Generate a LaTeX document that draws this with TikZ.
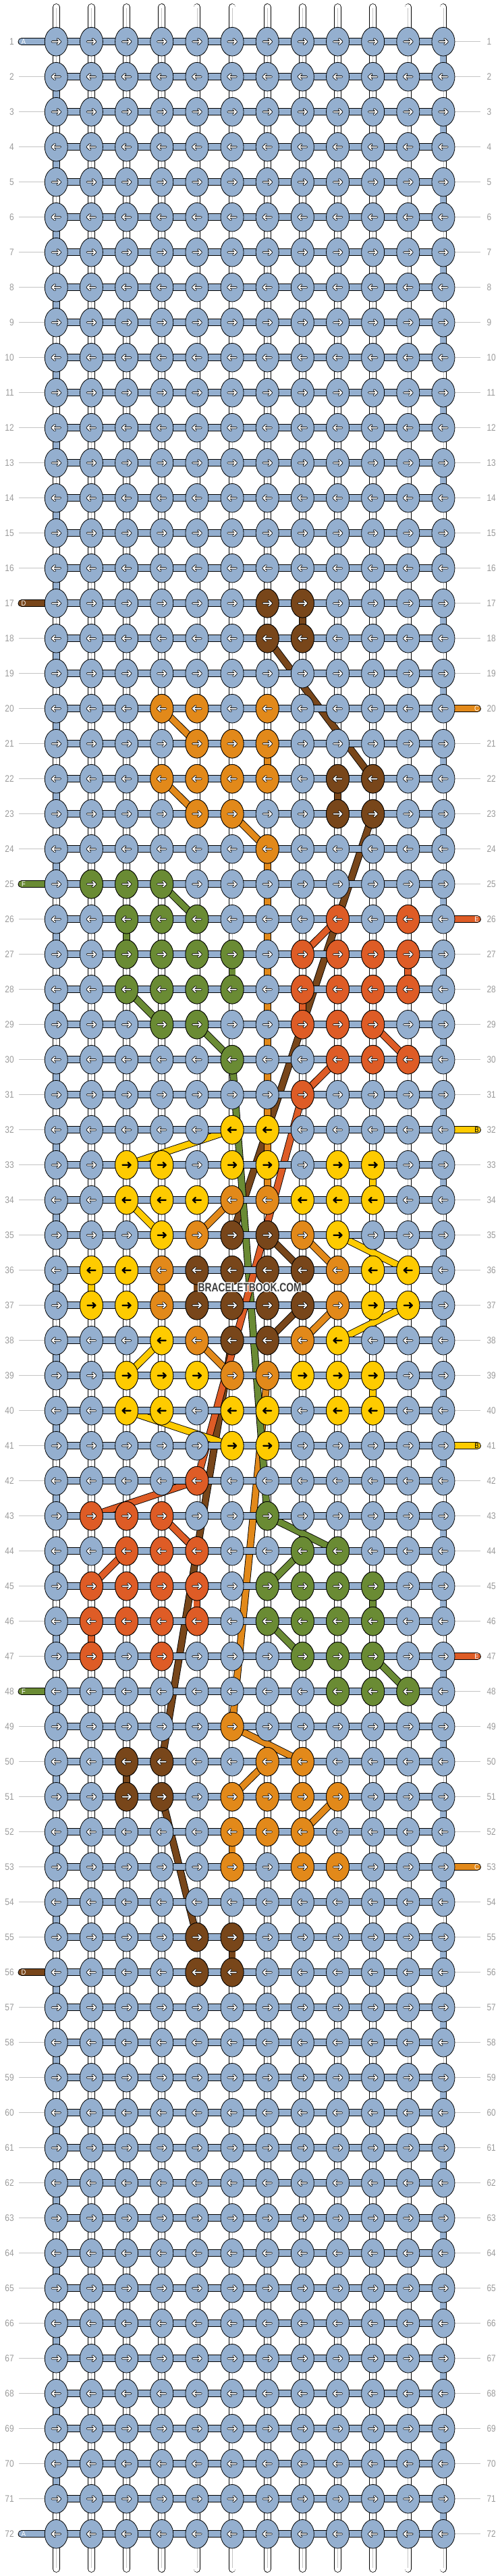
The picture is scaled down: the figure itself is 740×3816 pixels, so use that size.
\documentclass[tikz,border=0pt]{standalone}
\usepackage{fontspec}
\setmainfont{Liberation Sans}
\usetikzlibrary{calc, positioning, shapes.geometric}

\definecolor{cA}{HTML}{94AFCF}
\definecolor{cB}{HTML}{FECB00}
\definecolor{cC}{HTML}{E2891A}
\definecolor{cD}{HTML}{78461A}
\definecolor{cE}{HTML}{DE5C26}
\definecolor{cF}{HTML}{6A8B34}
\definecolor{numgray}{HTML}{9A9A9A}
\definecolor{guidegray}{HTML}{C4C4C4}
\definecolor{markgray}{HTML}{3C3C3C}

\pgfdeclarelayer{warps}
\pgfdeclarelayer{strands}
\pgfdeclarelayer{bars}
\pgfsetlayers{warps,strands,bars,main}

\tikzset{
  knotnode/.style={ellipse, draw=black, line width=0.8pt, fill=#1,
    minimum width=34pt, minimum height=42.6pt, inner sep=0pt},
  warpline/.style={draw=black, line width=0.8pt, double=white, double distance=9pt, line cap=round},
  strandline/.style={draw=black, line width=0.9pt, double=#1, double distance=9pt},
  tailline/.style={strandline=#1, line cap=round},
  rowbar/.style={draw=black, line width=0.9pt, double=cA, double distance=9.4pt},
  guideline/.style={draw=guidegray, line width=0.9pt},
  rownum/.style={text=numgray, inner sep=0pt, font=\fontsize{14pt}{14pt}\selectfont},
  tailtext/.style={inner sep=0pt, font=\fontsize{11pt}{11pt}\selectfont},
  marktext/.style={inner sep=0pt, font=\fontsize{18pt}{18pt}\selectfont\bfseries},
  warrow/.pic={
    \draw[black, line width=3.4pt, line cap=round, line join=round]
      (-6pt,0pt) -- (6pt,0pt) (2pt,3.8pt) -- (6pt,0pt) -- (2pt,-3.8pt);
    \draw[white, line width=1.7pt, line cap=round, line join=round]
      (-6pt,0pt) -- (6pt,0pt) (2pt,3.8pt) -- (6pt,0pt) -- (2pt,-3.8pt);
  },
  barrow/.pic={
    \draw[black, line width=2.3pt, line cap=round, line join=round]
      (-6pt,0pt) -- (6pt,0pt) (2pt,3.8pt) -- (6pt,0pt) -- (2pt,-3.8pt);
  },
}

\begin{document}
\begin{tikzpicture}[x=52.15pt, y=-52pt]
  \useasboundingbox (-31.15pt,9.7pt) rectangle (708.85pt,-3806.3pt);

  % Background knots, all in string A
  \foreach \r in {1,...,72} {
    \pgfmathtruncatemacro{\dir}{2*mod(\r,2)-1}
    \foreach \c in {1,...,12} {
      \node[knotnode=cA] (k-\r-\c) at (\c,\r) {};
      \pic[xscale=\dir] at (k-\r-\c) {warrow};
    }
  }

  % Coloured knots
  \foreach \r/\a/\b/\col/\arr in {
      17/7/8/cD/warrow, 18/7/8/cD/warrow,
      20/4/5/cC/warrow, 20/7/7/cC/warrow, 21/5/7/cC/warrow,
      22/4/7/cC/warrow, 22/9/10/cD/warrow,
      23/5/6/cC/warrow, 23/9/10/cD/warrow, 24/7/7/cC/warrow,
      25/2/4/cF/warrow,
      26/3/5/cF/warrow, 26/9/9/cE/warrow, 26/11/11/cE/warrow,
      27/3/6/cF/warrow, 27/8/11/cE/warrow,
      28/3/6/cF/warrow, 28/8/11/cE/warrow,
      29/4/5/cF/warrow, 29/8/10/cE/warrow,
      30/6/6/cF/warrow, 30/9/11/cE/warrow, 31/8/8/cE/warrow,
      32/6/7/cB/barrow,
      33/3/4/cB/barrow, 33/6/7/cB/barrow, 33/9/10/cB/barrow,
      34/3/5/cB/barrow, 34/6/7/cC/warrow, 34/8/10/cB/barrow,
      35/4/4/cB/barrow, 35/5/5/cC/warrow, 35/6/7/cD/warrow, 35/8/8/cC/warrow, 35/9/9/cB/barrow,
      36/2/3/cB/barrow, 36/4/4/cC/warrow, 36/5/8/cD/warrow, 36/9/9/cC/warrow, 36/10/11/cB/barrow,
      37/2/3/cB/barrow, 37/4/4/cC/warrow, 37/5/8/cD/warrow, 37/9/9/cC/warrow, 37/10/11/cB/barrow,
      38/4/4/cB/barrow, 38/5/5/cC/warrow, 38/6/7/cD/warrow, 38/8/8/cC/warrow, 38/9/9/cB/barrow,
      39/3/5/cB/barrow, 39/6/7/cC/warrow, 39/8/10/cB/barrow,
      40/3/4/cB/barrow, 40/6/7/cB/barrow, 40/9/10/cB/barrow,
      41/6/7/cB/barrow,
      42/5/5/cE/warrow,
      43/2/4/cE/warrow, 43/7/7/cF/warrow,
      44/3/5/cE/warrow, 44/8/9/cF/warrow,
      45/2/5/cE/warrow, 45/7/10/cF/warrow,
      46/2/5/cE/warrow, 46/7/10/cF/warrow,
      47/2/2/cE/warrow, 47/4/4/cE/warrow, 47/8/10/cF/warrow,
      48/9/11/cF/warrow,
      49/6/6/cC/warrow,
      50/3/4/cD/warrow, 50/7/8/cC/warrow,
      51/3/4/cD/warrow, 51/6/9/cC/warrow,
      52/6/8/cC/warrow, 53/6/6/cC/warrow, 53/8/9/cC/warrow,
      55/5/6/cD/warrow, 56/5/6/cD/warrow} {
    \pgfmathtruncatemacro{\dir}{2*mod(\r,2)-1}
    \foreach \c in {\a,...,\b} {
      \node[knotnode=\col] (k-\r-\c) at (\c,\r) {};
      \pic[xscale=\dir] at (k-\r-\c) {\arr};
    }
  }

  % Row numbers
  \foreach \r in {1,...,72} {
    \node[rownum, left=45pt of k-\r-1] (l-\r) {\scalebox{0.85}[1]{\r}};
    \node[rownum, right=47pt of k-\r-12] (rn-\r) {\scalebox{0.85}[1]{\r}};
  }

  % Warps and guides
  \begin{pgfonlayer}{warps}
    \foreach \c in {1,...,12} {
      \draw[warpline] ($(k-1-\c.center)+(0pt,51.2pt)$) -- ($(k-72-\c.center)+(0pt,-51.8pt)$);
      \draw[guidegray, line width=0.7pt] ($(k-1-\c.center)+(0pt,50pt)$) -- ($(k-72-\c.center)+(0pt,-50.6pt)$);
    }
    \foreach \r in {1,...,72} {
      \draw[guideline] (k-\r-1.west) -- ++(-38pt,0pt);
      \draw[guideline] (k-\r-12.east) -- ++(38pt,0pt);
    }
  \end{pgfonlayer}

  % Carried strings
  \begin{pgfonlayer}{strands}
    \foreach \r in {1,...,71} {
      \pgfmathtruncatemacro{\n}{\r+1}
      \pgfmathtruncatemacro{\e}{mod(\r,2)==1 ? 12 : 1}
      \draw[strandline=cA] (k-\r-\e.center) -- (k-\n-\e.center);
    }
    \foreach \ra/\ca/\rb/\cb/\col in {
        17/8/18/8/cD, 18/7/22/10/cD, 22/9/23/9/cD, 23/10/35/6/cD,
        35/7/36/8/cD, 36/5/37/5/cD, 37/8/38/7/cD, 38/6/50/4/cD,
        50/3/51/3/cD, 51/4/55/5/cD, 55/6/56/6/cD,
        20/4/21/5/cC, 21/7/22/7/cC, 22/4/23/5/cC, 23/6/24/7/cC,
        24/7/34/7/cC, 34/6/35/5/cC, 35/8/36/9/cC, 36/4/37/4/cC,
        37/9/38/8/cC, 38/5/39/6/cC, 39/7/49/6/cC, 49/6/50/8/cC,
        50/7/51/6/cC, 51/9/52/8/cC, 52/6/53/6/cC,
        25/4/26/5/cF, 26/3/27/3/cF, 27/6/28/6/cF, 28/3/29/4/cF,
        29/5/30/6/cF, 30/6/43/7/cF, 43/7/44/9/cF, 44/8/45/7/cF,
        45/10/46/10/cF, 46/7/47/8/cF, 47/10/48/11/cF,
        26/9/27/8/cE, 27/11/28/11/cE, 28/8/29/8/cE, 29/10/30/11/cE,
        30/9/31/8/cE, 31/8/42/5/cE, 42/5/43/2/cE, 43/4/44/5/cE,
        44/3/45/2/cE, 45/5/46/5/cE, 46/2/47/2/cE,
        32/6/33/3/cB, 33/10/34/10/cB, 34/3/35/4/cB, 35/9/36/11/cB,
        36/2/37/2/cB, 37/11/38/9/cB, 38/4/39/3/cB, 39/10/40/10/cB,
        40/3/41/6/cB}
      \draw[strandline=\col] (k-\ra-\ca.center) -- (k-\rb-\cb.center);
  \end{pgfonlayer}

  % Row bars and loose ends
  \begin{pgfonlayer}{bars}
    \foreach \r in {1,...,72}
      \draw[rowbar] (k-\r-1.center) -- (k-\r-12.center);
    \foreach \r/\col/\lab/\labcol in {1/cA/A/white, 17/cD/D/white, 25/cF/F/white,
        48/cF/F/white, 56/cD/D/white, 72/cA/A/white} {
      \draw[tailline=\col] (k-\r-1.center) -- ++(-51.3pt,0pt) coordinate (te-\r);
      \node[tailtext, text=\labcol] (tl-\r) at ($(te-\r)+(3pt,0pt)$) {\scalebox{0.85}[1]{\lab}};
    }
    \foreach \r/\col/\lab/\labcol in {20/cC/C/white, 26/cE/E/white, 32/cB/B/black,
        41/cB/B/black, 47/cE/E/white, 53/cC/C/white} {
      \draw[tailline=\col] (k-\r-12.center) -- ++(50.5pt,0pt) coordinate (te-\r);
      \node[tailtext, text=\labcol] (tl-\r) at ($(te-\r)+(-1pt,0pt)$) {\scalebox{0.85}[1]{\lab}};
    }
  \end{pgfonlayer}

  % Watermark
  \coordinate (wm) at ($(k-36-6)!0.5!(k-37-7)$);
  \foreach \gx/\gy [count=\g] in {-1pt/0pt, 1pt/0pt, 0pt/-1pt, 0pt/1pt,
      -1pt/-1pt, 1pt/1pt, -1pt/1pt, 1pt/-1pt}
    \node[marktext, text=white] (wmglow-\g) at ($(wm)+(\gx,\gy)$) {\scalebox{0.77}[1]{BRACELETBOOK.COM}};
  \node[marktext, text=markgray] (wmtext) at (wm) {\scalebox{0.77}[1]{BRACELETBOOK.COM}};
\end{tikzpicture}
\end{document}
